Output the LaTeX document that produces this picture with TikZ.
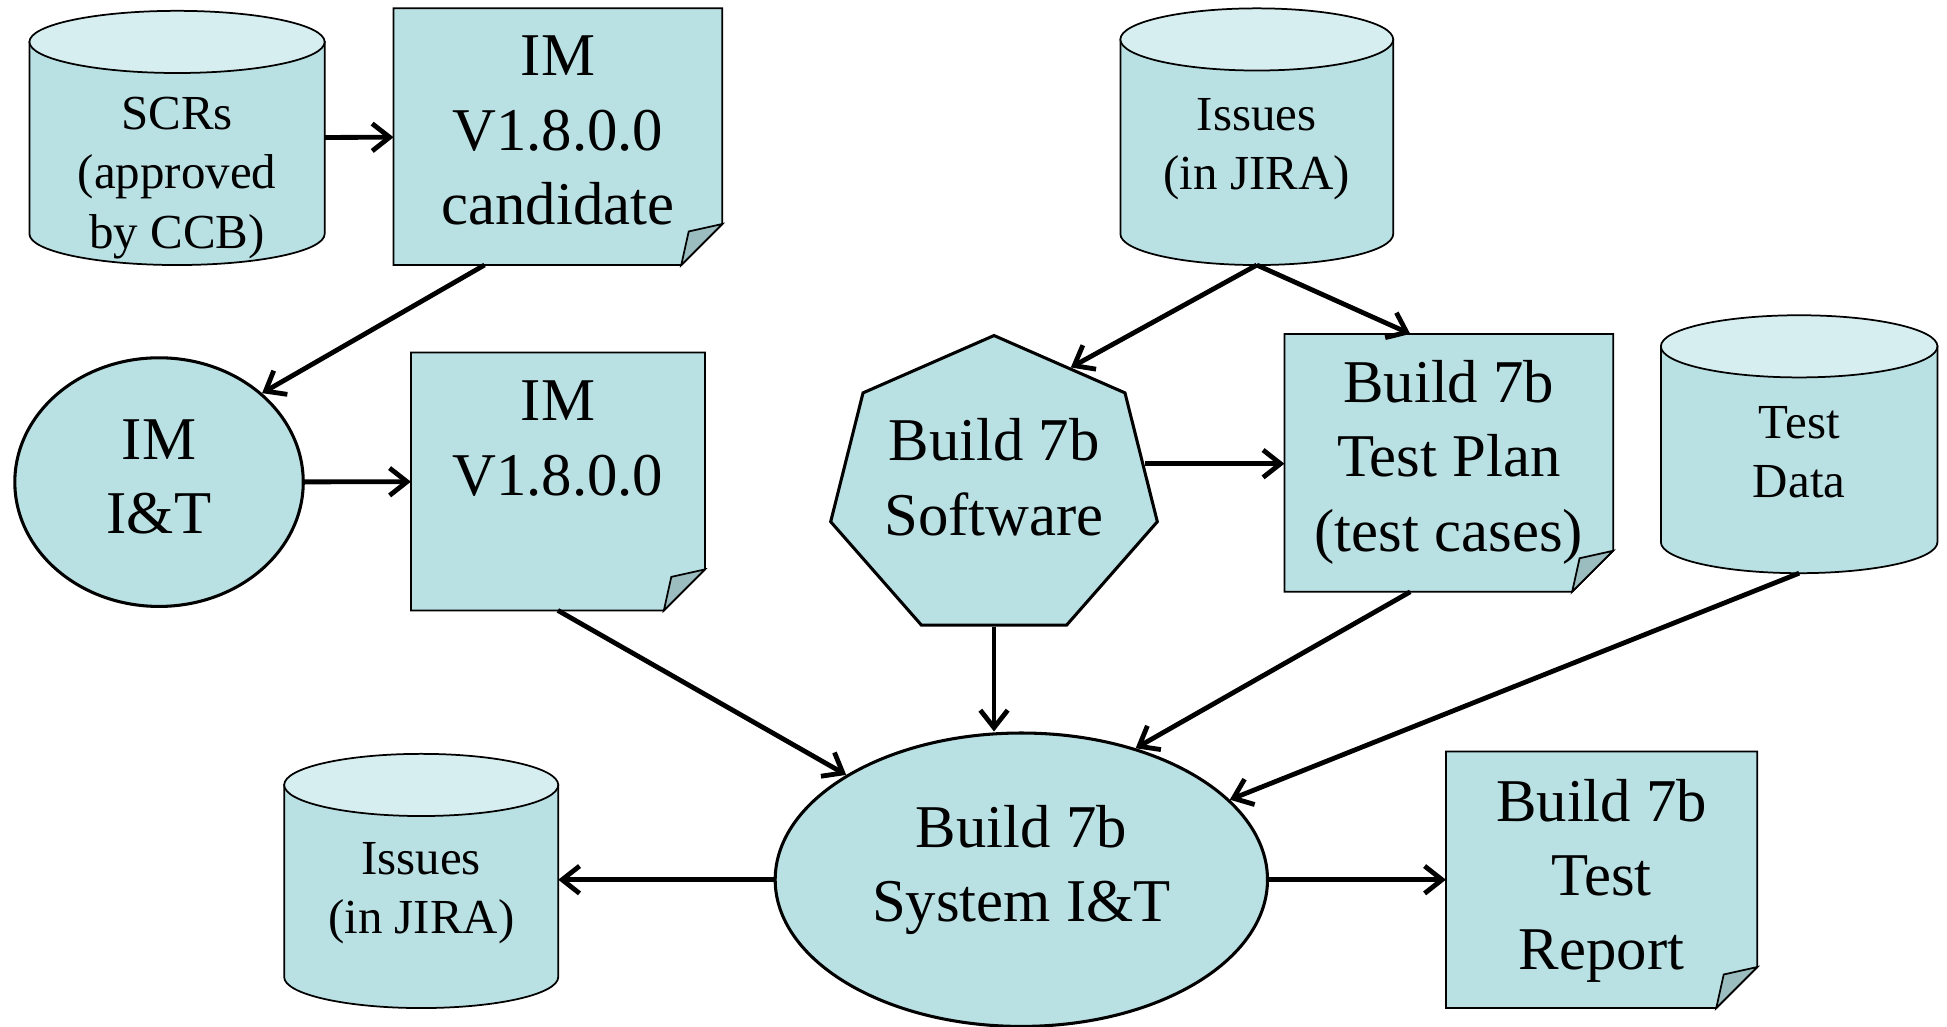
\documentclass[tikz,border=0pt]{standalone}
\usepackage{fontspec}
\setmainfont{Liberation Serif}
\usetikzlibrary{shapes.geometric,arrows.meta,calc,backgrounds}
\definecolor{boxfill}{HTML}{B9E0E3}
\definecolor{capfill}{HTML}{D7EEF0}
\definecolor{foldfill}{HTML}{9CBDBF}
\newcommand\dogear[1]{%
  \filldraw[fill=boxfill] (#1.north west) -- (#1.north east) -- ([yshift=.33cm]#1.south east)
    -- ([xshift=-.33cm]#1.south east) -- (#1.south west) -- cycle;
  \filldraw[fill=foldfill] ([yshift=.33cm]#1.south east) -- ([xshift=-.27cm,yshift=.27cm]#1.south east)
    -- ([xshift=-.33cm]#1.south east) -- cycle;}
\newcommand\drum[1]{%
  \filldraw[fill=boxfill] let \p1=(#1.west), \p2=(#1.east), \n1={(\x2-\x1)/2} in
    ([yshift=-.25cm]#1.north west) -- ([yshift=.25cm]#1.south west)
    arc[start angle=180,end angle=360,x radius=\n1,y radius=.25cm]
    -- ([yshift=-.25cm]#1.north east) -- cycle;
  \filldraw[fill=capfill] let \p1=(#1.west), \p2=(#1.east), \n1={(\x2-\x1)/2} in
    ([yshift=-.25cm]#1.north) ellipse[x radius=\n1,y radius=.25cm];}
\begin{document}
\begin{tikzpicture}[x=.01cm,y=-.01cm,line width=.7pt,
  db/.style={rectangle,inner sep=0pt},
  doc/.style={rectangle,inner sep=0pt},
  blob/.style={ellipse,draw,fill=boxfill,inner sep=0pt},
  hept/.style={regular polygon,regular polygon sides=7,draw,fill=boxfill,inner sep=0pt,minimum size=2.45cm},
  bigtxt/.style={align=center,font=\fontsize{13.9}{17}\selectfont},
  smalltxt/.style={align=center,font=\fontsize{11.2}{13.6}\selectfont},
  arr/.style={line width=1.1pt,-{Straight Barb[length=.14cm,width=.22cm]}}]

  \useasboundingbox (0,0) rectangle (1567,826);

  % shapes
  \path (142.5,111) node[db,minimum width=2.35cm,minimum height=2.02cm] (scr) {};
  \path (449,110) node[doc,minimum width=2.62cm,minimum height=2.04cm] (cand) {};
  \path (128,388) node[blob,minimum width=2.32cm,minimum height=2cm] (imit) {};
  \path (449,387.5) node[doc,minimum width=2.34cm,minimum height=2.05cm] (imdoc) {};
  \path (1011.5,110) node[db,minimum width=2.17cm,minimum height=2.04cm] (iss1) {};
  \path (800,392.6) node[hept,xscale=1.1] (sw) {};
  \path (1166,372.5) node[doc,minimum width=2.62cm,minimum height=2.05cm] (plan) {};
  \path (1448,357.5) node[db,minimum width=2.2cm,minimum height=2.05cm] (data) {};
  \path (339,709) node[db,minimum width=2.18cm,minimum height=2.02cm] (iss2) {};
  \path (822,708) node[blob,minimum width=3.96cm,minimum height=2.36cm] (sys) {};
  \path (1289,708) node[doc,minimum width=2.48cm,minimum height=2.04cm] (rep) {};

  \begin{scope}[on background layer]
    \drum{scr}
    \drum{iss1}
    \drum{data}
    \drum{iss2}
    \dogear{cand}
    \dogear{imdoc}
    \dogear{plan}
    \dogear{rep}
  \end{scope}

  % texts
  \path (142.5,143) node[smalltxt] (scrt) {SCRs\\(approved\\by CCB)};
  \path (449,105) node[bigtxt] (candt) {IM\\V1.8.0.0\\candidate};
  \path (128,384) node[bigtxt] (imitt) {IM\\I\&T};
  \path (449,353) node[bigtxt] (imdoct) {IM\\V1.8.0.0};
  \path (1011.5,120) node[smalltxt] (iss1t) {Issues\\(in JIRA)};
  \path (800,384) node[bigtxt] (swt) {Build 7b\\Software};
  \path (1166,372) node[bigtxt] (plant) {Build 7b\\Test Plan\\(test cases)};
  \path (1448,364) node[smalltxt] (datat) {Test\\Data};
  \path (339,719) node[smalltxt] (iss2t) {Issues\\(in JIRA)};
  \path (822,700) node[bigtxt] (syst) {Build 7b\\System I\&T};
  \path (1289,709) node[bigtxt] (rept) {Build 7b\\Test\\Report};

  % connectors
  \draw[arr] (scr) -- (cand);
  \draw[arr] ([xshift=-.59cm]cand.south) -- (imit.north east);
  \draw[arr] (imit) -- (imdoc);
  \draw[arr] (imdoc.south) -- (sys.north west);
  \draw[arr] (iss1.south) -- ($(sw.corner 1)!.58!(sw.corner 7)$);
  \draw[arr] (iss1.south) -- ([xshift=-.31cm]plan.north);
  \draw[arr] (sw.10) -- (sw.10 -| plan.west);
  \draw[arr] (sw.south) -- (sw.south |- sys.north);
  \draw[arr] ([xshift=-.31cm]plan.south) -- (sys.49);
  \draw[arr] (data.south) -- (sys.21);
  \draw[arr] (sys.west) -- (sys.west -| iss2.east);
  \draw[arr] (sys.east) -- (sys.east -| rep.west);

\end{tikzpicture}
\end{document}
